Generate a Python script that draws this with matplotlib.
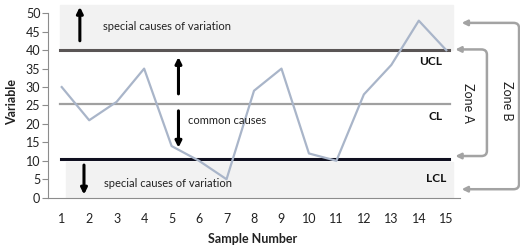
import matplotlib
matplotlib.use("Agg")
import matplotlib.pyplot as plt
from matplotlib.patches import FancyArrowPatch
from matplotlib.path import Path

plt.rcParams['font.family'] = ['Lato', 'DejaVu Sans']

# data
samples = list(range(1, 16))
values = [30, 21, 26, 35, 14, 10, 5, 29, 35, 12, 10, 28, 36, 48, 40]
ucl, cl, lcl = 40, 25.3, 10.6
yticks = list(range(0, 55, 5))

fig = plt.figure(figsize=(5.2, 2.5), dpi=100)
ax = fig.add_axes([48 / 520, 52.3 / 250, 412 / 520, 184.4 / 250])
ax.set_xlim(0.5, 15.5)
ax.set_ylim(0, 50)

# shaded zones of special causes
ax.axhspan(ucl, 52.2, xmin=(0.93 - 0.5) / 15, xmax=(15.26 - 0.5) / 15,
           color='#f2f2f2', zorder=0, clip_on=False)
ax.axhspan(0, 9.8, xmin=(1.15 - 0.5) / 15, xmax=(15.26 - 0.5) / 15,
           color='#f2f2f2', zorder=0)

# control lines
ax.plot([0.93, 15.1], [ucl, ucl], color='#5a5555', lw=2.2, zorder=2)
ax.plot([0.93, 15.15], [cl, cl], color='#a0a0a0', lw=1.6, zorder=2)
ax.plot([0.97, 15.1], [lcl, lcl], color='#101020', lw=2.2, zorder=2)

ax.plot(samples, values, color='#a9b5c9', lw=1.6, zorder=3)

# black arrows
def arrow(x0, y0, x1, y1, color='black', lw=2.2, ms=9):
    a = FancyArrowPatch((x0, y0), (x1, y1), arrowstyle='-|>', mutation_scale=ms,
                        color=color, lw=lw, clip_on=False, zorder=4)
    ax.add_patch(a)

arrow(1.66, 41.8, 1.66, 52.5)
arrow(5.25, 27.4, 5.25, 38.9)
arrow(5.25, 24.3, 5.25, 12.8)
arrow(1.81, 9.6, 1.81, 0.1)

tkw = dict(fontsize=8, color='#222222', va='center')
ax.text(2.5, 46.5, 'special causes of variation', **tkw)
ax.text(2.55, 3.9, 'special causes of variation', **tkw)
ax.text(5.6, 21, 'common causes', **tkw)

bkw = dict(fontsize=8.5, fontweight='bold', color='#111111', ha='right', va='center')
ax.text(14.85, 36.8, 'UCL', **bkw)
ax.text(14.85, 22.1, 'CL', **bkw)
ax.text(15.0, 5.3, 'LCL', **bkw)

# zone brackets (gray, rounded corners, arrowheads pointing back to the chart)
gray = '#a3a3a3'
def bracket(x_in, x_out, y_top, y_bot, rx=0.2, ry=1.4):
    verts = [(x_in, y_top), (x_out - rx, y_top), (x_out, y_top), (x_out, y_top - ry),
             (x_out, y_bot + ry), (x_out, y_bot), (x_out - rx, y_bot), (x_in, y_bot)]
    codes = [Path.MOVETO, Path.LINETO, Path.CURVE3, Path.CURVE3,
             Path.LINETO, Path.CURVE3, Path.CURVE3, Path.LINETO]
    p = FancyArrowPatch(path=Path(verts, codes), arrowstyle='<|-|>',
                        mutation_scale=8, color=gray, lw=1.8, clip_on=False)
    ax.add_patch(p)

bracket(15.33, 16.48, 40.2, 11.3)
bracket(15.56, 17.65, 47.4, 2.3)

zkw = dict(fontsize=9, color='#222222', rotation=-90,
           ha='center', va='center', clip_on=False)
ax.text(15.78, 25.8, 'Zone A', **zkw)
ax.text(17.2, 26.2, 'Zone B', **zkw)

# axes styling
for s in ('top', 'right'):
    ax.spines[s].set_visible(False)
ax.spines['left'].set_color('#8c8c8c')
ax.spines['bottom'].set_color('#8c8c8c')
ax.set_yticks(yticks)
ax.set_xticks(samples)
ax.tick_params(axis='y', length=4, color='#8c8c8c', labelsize=9, pad=1.5,
               labelcolor='#222222')
ax.tick_params(axis='x', length=0, labelsize=9, pad=11, labelcolor='#222222')

fig.text(12 / 520, 1 - 102 / 250, 'Variable', rotation=90, fontsize=9,
         fontweight='bold', ha='center', va='center', color='#222222')
fig.text(253 / 520, 1 - 239 / 250, 'Sample Number', fontsize=9,
         fontweight='bold', ha='center', va='center', color='#222222')

fig.savefig('out.png', dpi=100)
